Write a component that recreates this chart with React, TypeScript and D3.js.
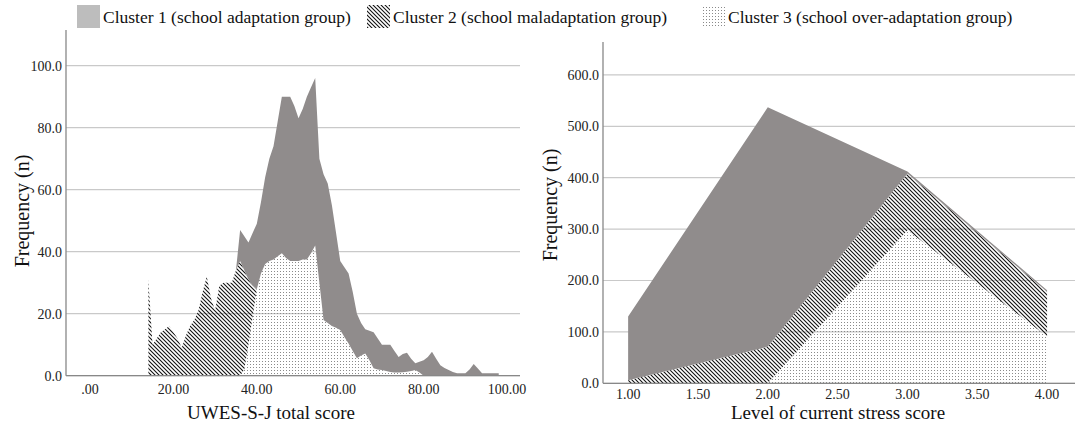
import React from "react";
import * as d3 from "d3";

// ---------- Left chart data (UWES-S-J total score) ----------
const uwesScores = [
  14, 15, 16, 17, 18, 19, 20, 21, 22, 23, 24, 25, 26, 27, 28, 29, 30, 31, 32, 33, 34, 35,
  36, 37, 38, 39, 40, 41, 42, 43, 44, 45, 46, 47, 48, 49, 50, 51, 52, 53, 54, 55, 56, 57,
  58, 59, 60, 61, 62, 63, 64, 65, 66, 67, 68, 69, 70, 71, 72, 73, 74, 75, 76, 77, 78, 79,
  80, 81, 82, 83, 84, 85, 86, 87, 88, 89, 90, 91, 92, 93, 94, 95, 96, 97, 98,
];
// Cluster 1 (school adaptation group)
const uwesCluster1 = [
  0, 0, 0, 0, 0, 0, 0, 0, 0, 0, 0, 0, 0, 0, 0, 0, 0, 0, 0, 0, 0, 0,
  10, 11, 12, 17, 21, 23, 28, 33, 36.5, 43.5, 50.5, 52, 53, 50, 46, 48.5, 52.5, 53.5, 54, 40, 47, 45,
  39, 30.5, 22.3, 22.5, 22.6, 19, 14.4, 10.5, 7.8, 9.5, 11.6, 10, 8.2, 8.5, 8.8, 7, 5, 5.9, 6.1, 4, 2.2, 3.5,
  5, 6, 7.7, 5.5, 3.4, 2.5, 1.8, 1.2, 0.8, 0.8, 0.8, 2, 3.8, 2.3, 0.8, 0.8, 0.8, 0.8, 0.8,
];
// Cluster 2 (school maladaptation group)
const uwesCluster2 = [
  31, 10, 12, 14, 15, 16, 14, 12, 9, 13, 16, 18, 21, 27, 32, 25, 21, 29, 30, 30, 30, 34,
  37, 32, 21, 10, 0, 0, 0, 0, 0, 0, 0, 0, 0, 0, 0, 0, 0, 0, 0, 0, 0, 0,
  0, 0, 0, 0, 0, 0, 0, 0, 0, 0, 0, 0, 0, 0, 0, 0, 0, 0, 0, 0, 0, 0,
  0, 0, 0, 0, 0, 0, 0, 0, 0, 0, 0, 0, 0, 0, 0, 0, 0, 0, 0,
];
// Cluster 3 (school over-adaptation group)
const uwesCluster3 = [
  0, 0, 0, 0, 0, 0, 0, 0, 0, 0, 0, 0, 0, 0, 0, 0, 0, 0, 0, 0, 0, 0,
  0, 2, 10, 19, 28, 33, 36, 37, 37.5, 38.5, 39.5, 38, 37, 37, 37, 37.5, 37.5, 39.5, 42, 30, 18, 17,
  16, 15.5, 14.7, 12.5, 10.4, 8, 5.6, 6.5, 7.2, 5, 2.4, 2, 1.8, 1.5, 1.2, 1, 1, 1.1, 1.3, 1.5, 1.8, 1,
  0, 0, 0, 0, 0, 0, 0, 0, 0, 0, 0, 0, 0, 0, 0, 0, 0, 0, 0,
];
const uwesTicks = [0, 20, 40, 60, 80, 100];
const uwesYTicks = [0, 20, 40, 60, 80, 100];

// ---------- Right chart data (Level of current stress score) ----------
const stressScores = [1, 2, 3, 4];
const stressCluster1 = [124, 466, 4, 3];
const stressCluster2 = [6, 71, 110, 87];
const stressCluster3 = [0, 0, 298, 91];
const stressTicks = [1, 1.5, 2, 2.5, 3, 3.5, 4];
const stressYTicks = [0, 100, 200, 300, 400, 500, 600];

const legendLabels = [
  "Cluster 1 (school adaptation group)",
  "Cluster 2 (school maladaptation group)",
  "Cluster 3 (school over-adaptation group)",
];

const FONT = "'Liberation Serif', 'Times New Roman', serif";
const GRAY = "#908c8c";

type Row = { x: number; c1: number; c2: number; c3: number };

function buildRows(xs: number[], a: number[], b: number[], c: number[]): Row[] {
  return xs.map((x, i) => ({ x, c1: a[i], c2: b[i], c3: c[i] }));
}

type PanelProps = {
  rows: Row[];
  xDomain: [number, number];
  xRange: [number, number];
  yDomain: [number, number];
  yRange: [number, number];
  xTicks: number[];
  yTicks: number[];
  xFmt: (v: number) => string;
  yFmt: (v: number) => string;
  xLabelY: number;
  xTitle: string;
  xTitleX: number;
  yTitleX: number;
  yTitleY: number;
};

function Panel(p: PanelProps) {
  const x = d3.scaleLinear().domain(p.xDomain).range(p.xRange);
  const y = d3.scaleLinear().domain(p.yDomain).range(p.yRange);
  const stack = d3.stack<Row>().keys(["c3", "c2", "c1"]);
  const series = stack(p.rows);
  const area = d3
    .area<d3.SeriesPoint<Row>>()
    .x((d) => x(d.data.x))
    .y0((d) => y(d[0]))
    .y1((d) => y(d[1]))
    .curve(d3.curveLinear);
  const fills: Record<string, string> = { c3: "url(#dots)", c2: "url(#hatch)", c1: GRAY };
  const [x0, x1] = p.xRange;
  const yb = p.yRange[0];
  return (
    <g>
      {p.yTicks.map((t) => (
        <line key={"g" + t} x1={x0} x2={x1} y1={y(t)} y2={y(t)} stroke="#c9c9c9" strokeWidth={1.2} />
      ))}
      {series.map((s) => (
        <path key={s.key} d={area(s) || ""} fill={fills[s.key]} />
      ))}
      <line x1={x0} x2={x0} y1={y(p.yDomain[1])} y2={yb} stroke="#888" strokeWidth={1.3} />
      <line x1={x0} x2={x1} y1={yb} y2={yb} stroke="#888" strokeWidth={1.3} />
      {p.yTicks.map((t) => (
        <text key={"yl" + t} x={x0 - 4} y={y(t)} dy="0.35em" textAnchor="end" fontSize={14} fontFamily={FONT} fill="#222">
          {p.yFmt(t)}
        </text>
      ))}
      {p.xTicks.map((t) => (
        <text key={"xl" + t} x={x(t)} y={p.xLabelY} dy="0.35em" textAnchor="middle" fontSize={14} fontFamily={FONT} fill="#222">
          {p.xFmt(t)}
        </text>
      ))}
      <text x={p.xTitleX} y={419} textAnchor="middle" fontSize={19} fontFamily={FONT} fill="#111">
        {p.xTitle}
      </text>
      <text
        transform={`translate(${p.yTitleX},${p.yTitleY}) rotate(-90)`}
        textAnchor="middle"
        dy="0.35em"
        fontSize={20}
        fontFamily={FONT}
        fill="#111"
      >
        Frequency (n)
      </text>
    </g>
  );
}

export default function App() {
  const leftRows = buildRows(uwesScores, uwesCluster1, uwesCluster2, uwesCluster3);
  const rightRows = buildRows(stressScores, stressCluster1, stressCluster2, stressCluster3);
  const fmt2 = (v: number) => (v === 0 ? ".00" : v.toFixed(2));
  const fmt1 = (v: number) => v.toFixed(1);
  const legendX = [77, 367, 702];
  const legendFill = ["#bdbdbd", "url(#hatch)", "url(#dots)"];
  return (
    <svg
      width={1084}
      height={438}
      style={{ position: "absolute", left: 0, top: 0, background: "#fff" }}
    >
      <defs>
        <pattern id="hatch" patternUnits="userSpaceOnUse" width={4} height={4}>
          <path d="M-1,-1 L5,5 M-1,3 L1,5 M3,-1 L5,1" stroke="#111" strokeWidth={1.1} />
        </pattern>
        <pattern id="dots" patternUnits="userSpaceOnUse" width={3} height={3}>
          <rect x={1} y={1} width={1} height={1} fill="#8a8a8a" />
        </pattern>
      </defs>
      <rect width={1084} height={438} fill="#fff" />
      {legendLabels.map((l, i) => (
        <g key={l}>
          <rect x={legendX[i]} y={5} width={23} height={23} fill={legendFill[i]} />
          <text x={legendX[i] + 26} y={23} fontSize={17.5} fontFamily={FONT} fill="#111">
            {l}
          </text>
        </g>
      ))}
      <Panel
        rows={leftRows}
        xDomain={[-5.75, 103.1]}
        xRange={[66, 520]}
        yDomain={[0, 111.5]}
        yRange={[375.7, 30]}
        xTicks={uwesTicks}
        yTicks={uwesYTicks}
        xFmt={fmt2}
        yFmt={fmt1}
        xLabelY={389}
        xTitle="UWES-S-J total score"
        xTitleX={271}
        yTitleX={22}
        yTitleY={211}
      />
      <Panel
        rows={rightRows}
        xDomain={[0.82, 4.2]}
        xRange={[603, 1075]}
        yDomain={[0, 664]}
        yRange={[383.3, 42]}
        xTicks={stressTicks}
        yTicks={stressYTicks}
        xFmt={(v) => v.toFixed(2)}
        yFmt={fmt1}
        xLabelY={394}
        xTitle="Level of current stress score"
        xTitleX={838}
        yTitleX={550}
        yTitleY={205}
      />
    </svg>
  );
}
